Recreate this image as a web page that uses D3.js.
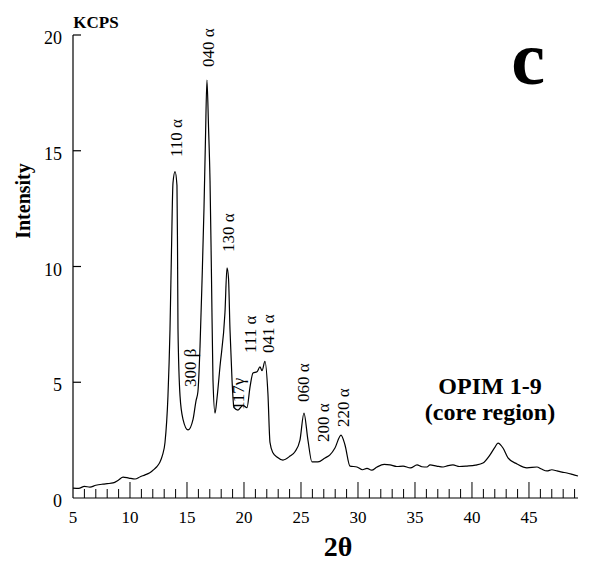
<!DOCTYPE html>
<html><head><meta charset="utf-8">
<script src="https://cdn.jsdelivr.net/npm/d3@7"></script>
<style>
body{margin:0;background:#fff;}
svg{display:block;font-family:"Liberation Serif","Times New Roman",serif;}
</style></head>
<body><svg id="c" width="590" height="563"></svg>
<script>
// 2θ (degrees) and intensity (KCPS)
const twoTheta = [5.0,5.5,6.0,6.49,7.0,7.63,8.0,8.51,9.0,9.39,9.9,10.44,10.9,11.32,11.7,12.02,12.35,12.63,12.85,13.07,13.33,13.51,13.64,13.77,13.95,14.12,14.17,14.21,14.39,14.65,15.09,15.53,15.79,15.96,16.14,16.32,16.49,16.62,16.75,16.89,17.02,17.15,17.28,17.46,17.63,17.89,18.33,18.51,18.64,18.77,18.95,19.12,19.47,19.91,20.26,20.53,20.79,21.14,21.4,21.58,21.84,22.1,22.28,22.54,22.89,23.42,24.04,24.47,24.91,25.26,25.61,25.96,26.49,27.11,27.54,27.98,28.51,28.86,29.3,29.91,30.4,30.79,31.2,31.67,32.3,32.81,33.4,33.95,34.6,35.18,35.6,36.05,36.32,36.9,37.46,37.9,38.33,38.9,39.56,40.3,40.96,41.58,42.02,42.28,42.72,43.16,43.95,44.82,45.7,46.1,46.58,47.0,47.46,47.9,48.33,48.8,49.3];
const intensity = [0.43,0.42,0.5,0.47,0.55,0.6,0.62,0.65,0.78,0.9,0.86,0.82,0.92,1.0,1.08,1.2,1.35,1.55,1.85,2.4,4.4,7.3,10.7,13.6,14.1,13.5,10.7,7.3,4.4,3.4,2.94,3.4,4.2,4.6,6.5,9.4,12.5,15.5,18.05,16.0,13.7,9.5,5.1,3.67,4.3,5.66,8.0,9.94,9.5,7.3,5.1,3.9,3.8,4.0,3.9,4.8,5.4,5.45,5.66,5.5,5.9,4.5,2.4,1.95,1.77,1.64,1.81,2.0,2.5,3.67,2.5,1.56,1.56,1.73,1.86,2.16,2.72,2.29,1.38,1.34,1.22,1.28,1.2,1.34,1.45,1.43,1.36,1.38,1.3,1.43,1.35,1.34,1.43,1.38,1.34,1.4,1.43,1.36,1.38,1.42,1.51,1.86,2.2,2.37,2.16,1.73,1.47,1.3,1.34,1.25,1.17,1.22,1.17,1.12,1.08,1.02,0.95];

const xTicks = [5,10,15,20,25,30,35,40,45];
const yTicks = [0,5,10,15,20];

// peak annotations: label, 2θ position, intensity at label foot
const peakLabels = ["110 α","040 α","130 α","300 β","117γ","111 α","041 α","060 α","200 α","220 α"];
const peakX = [14.04,16.84,18.6,15.26,19.47,20.53,22.1,25.18,26.93,28.68];
const peakY = [14.73,18.62,10.63,4.79,3.8,6.26,6.26,4.15,2.42,3.07];

const svg = d3.select("#c");
const x = d3.scaleLinear().domain([5,49.3]).range([73,578]);
const y = d3.scaleLinear().domain([0,20]).range([498,35]);

// y axis
svg.append("line").attr("x1",x(5)).attr("x2",x(5)).attr("y1",y(20)).attr("y2",y(0))
  .attr("stroke","#000").attr("stroke-width",1.2);
svg.selectAll(".yt").data(yTicks.filter(d=>d>0)).enter().append("line")
  .attr("x1",x(5)).attr("x2",x(5)+8).attr("y1",d=>y(d)).attr("y2",d=>y(d))
  .attr("stroke","#000").attr("stroke-width",1.2);
svg.selectAll(".yl").data(yTicks).enter().append("text")
  .attr("x",62).attr("y",d=>y(d)+9).attr("text-anchor","end")
  .attr("font-size",18).text(d=>d);

// x axis
svg.append("line").attr("x1",x(5)).attr("x2",x(49.3)).attr("y1",y(0)).attr("y2",y(0))
  .attr("stroke","#000").attr("stroke-width",1.2);
const minor = d3.range(6,50,1);
svg.selectAll(".xm").data(minor).enter().append("line")
  .attr("x1",d=>x(d)).attr("x2",d=>x(d)).attr("y1",y(0))
  .attr("y2",d=>y(0)-(d%5===0?16:9))
  .attr("stroke","#000").attr("stroke-width",1);
svg.selectAll(".xl").data(xTicks).enter().append("text")
  .attr("x",d=>x(d)).attr("y",523).attr("text-anchor","middle")
  .attr("font-size",17).text(d=>d);

// curve
const pts = twoTheta.map((t,i)=>[t,intensity[i]]);
svg.append("path").datum(pts)
  .attr("d",d3.line().curve(d3.curveMonotoneX).x(d=>x(d[0])).y(d=>y(d[1])))
  .attr("fill","none").attr("stroke","#000").attr("stroke-width",1.2)
  .attr("stroke-linejoin","round");

// peak labels
peakLabels.forEach((lab,i)=>{
  const px = x(peakX[i]), py = y(peakY[i]);
  svg.append("text").attr("transform",`translate(${px},${py}) rotate(-90)`)
    .attr("dy","0.35em").attr("font-size",17).text(lab);
});

// titles
svg.append("text").attr("x",96).attr("y",28).attr("text-anchor","middle")
  .attr("font-weight","bold").attr("font-size",17).text("KCPS");
svg.append("text").attr("transform","translate(30,201) rotate(-90)")
  .attr("text-anchor","middle").attr("font-weight","bold").attr("font-size",20).text("Intensity");
svg.append("text").attr("x",338).attr("y",556).attr("text-anchor","middle")
  .attr("font-weight","bold").attr("font-size",28).text("2θ");
svg.append("text").attr("x",528).attr("y",84).attr("text-anchor","middle")
  .attr("font-weight","bold").attr("font-size",76).text("c");
svg.append("text").attr("x",490).attr("y",394).attr("text-anchor","middle")
  .attr("font-weight","bold").attr("font-size",24).text("OPIM 1-9");
svg.append("text").attr("x",490).attr("y",420).attr("text-anchor","middle")
  .attr("font-weight","bold").attr("font-size",24).text("(core region)");
</script></body></html>
